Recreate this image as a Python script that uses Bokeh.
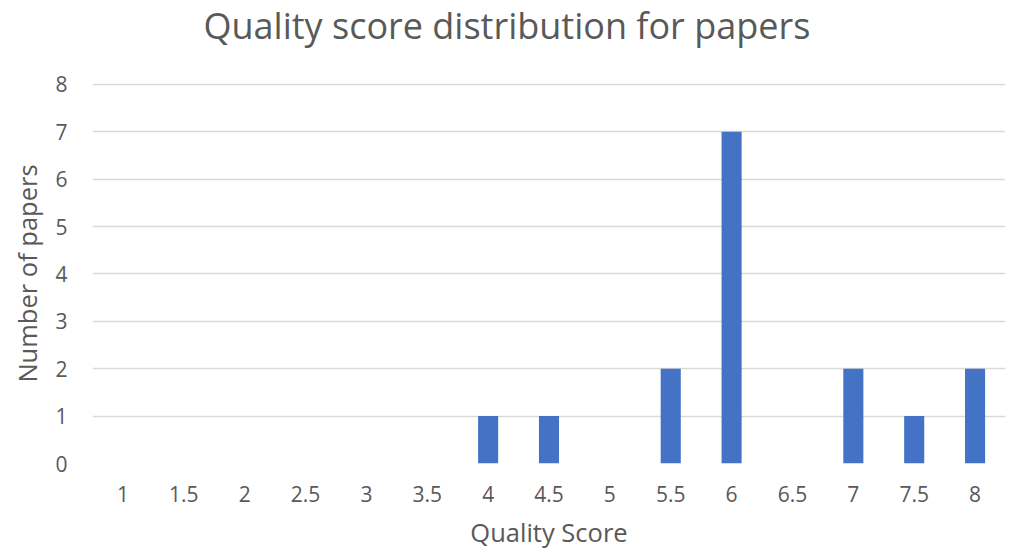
from bokeh.plotting import figure
from bokeh.models import FactorRange, Range1d, SingleIntervalTicker, Title
from bokeh.embed import file_html
from bokeh.resources import INLINE

scores = ["1", "1.5", "2", "2.5", "3", "3.5", "4", "4.5", "5", "5.5", "6", "6.5", "7", "7.5", "8"]
papers = [0, 0, 0, 0, 0, 0, 1, 1, 0, 2, 7, 0, 2, 1, 2]

FONT = "Open Sans"
GREY = "#595959"

p = figure(width=1006, height=553, x_range=FactorRange(*scores), y_range=Range1d(0, 8.02),
           output_backend="svg", toolbar_location=None,
           min_border_left=92, min_border_right=1, min_border_top=83, min_border_bottom=90)
p.outline_line_color = None

p.vbar(x=scores, top=papers, width=0.33, color="#4472C4", line_color=None)

# spacer between the frame and the chart title (closest to the frame)
spacer = Title(text=" ", text_font=FONT, text_font_size="10px", standoff=16)
p.add_layout(spacer, "above")
title = Title(text="Quality score distribution for papers", align="left", offset=111,
              vertical_align="top",
              text_font=FONT, text_font_size="36px", text_color=GREY,
              text_font_style="normal", standoff=0)
p.add_layout(title, "above")

p.yaxis.ticker = SingleIntervalTicker(interval=1)
p.yaxis.axis_line_color = None
p.yaxis.major_tick_line_color = None
p.yaxis.minor_tick_line_color = None
p.yaxis.major_label_text_font = FONT
p.yaxis.major_label_text_font_size = "21px"
p.yaxis.major_label_text_color = GREY
p.yaxis.major_label_standoff = 19
p.yaxis.axis_label = "Number of papers"
p.yaxis.axis_label_text_font = FONT
p.yaxis.axis_label_text_font_size = "25.5px"
p.yaxis.axis_label_text_font_style = "normal"
p.yaxis.axis_label_text_color = GREY
p.yaxis.axis_label_standoff = 8

p.xaxis.axis_line_color = None
p.xaxis.major_tick_line_color = None
p.xaxis.minor_tick_line_color = None
p.xaxis.major_label_text_font = FONT
p.xaxis.major_label_text_font_size = "21px"
p.xaxis.major_label_text_color = GREY
p.xaxis.major_label_standoff = 16
p.xaxis.axis_label = "Quality Score"
p.xaxis.axis_label_text_font = FONT
p.xaxis.axis_label_text_font_size = "25.5px"
p.xaxis.axis_label_text_font_style = "normal"
p.xaxis.axis_label_text_color = GREY
p.xaxis.axis_label_standoff = 10

p.xgrid.grid_line_color = None
p.ygrid.grid_line_color = "#d9d9d9"
p.ygrid.grid_line_width = 1.5

open("out.html", "w").write(file_html(p, INLINE))
